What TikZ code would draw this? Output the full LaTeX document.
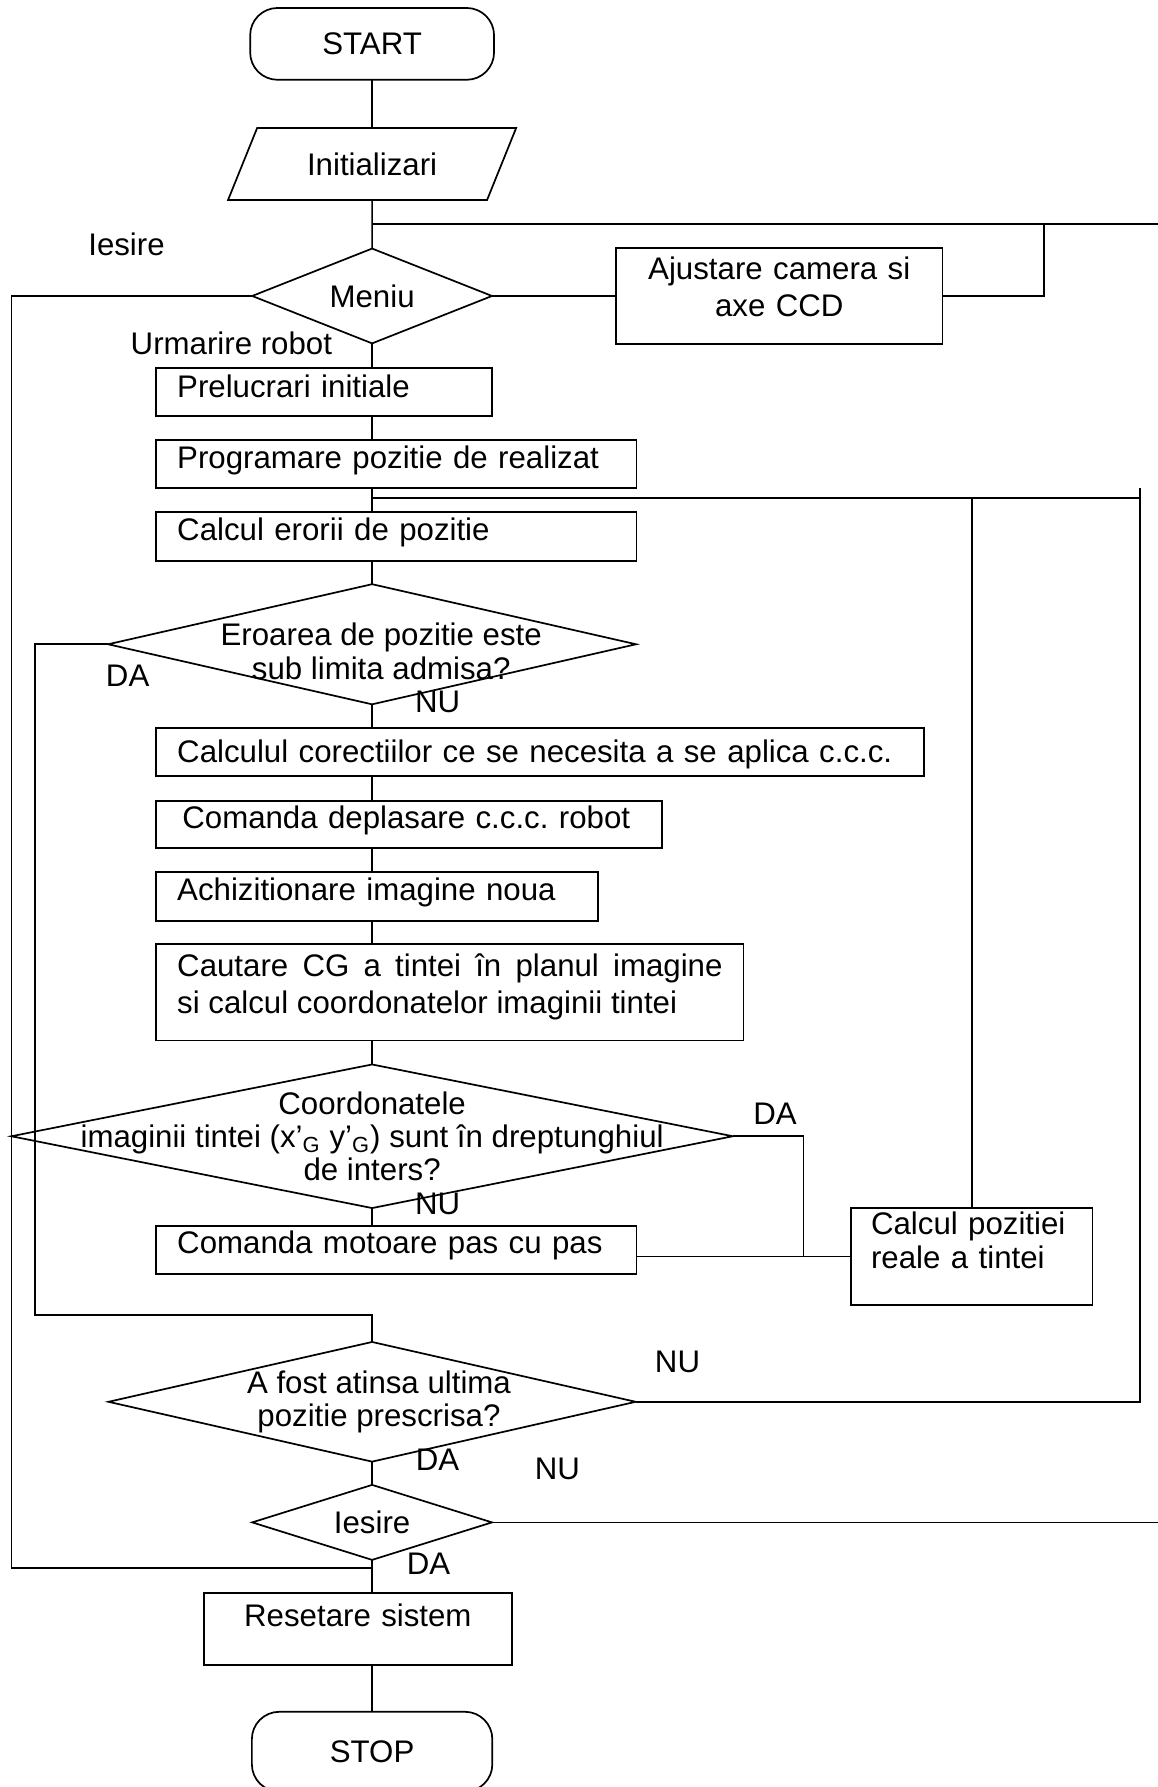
\documentclass[tikz,border=0pt]{standalone}
\usepackage{fontspec}
\setmainfont{Liberation Sans}
\usetikzlibrary{shapes.geometric}
\newcommand{\cl}[2][0pt]{\makebox[0pt]{\hspace*{#1}#2}}

\begin{document}
\begin{tikzpicture}[x=0.5pt, y=-0.5pt, line width=0.75pt, font=\fontsize{13.7}{16}\selectfont,
	box/.style={draw, rectangle, anchor=north west, inner xsep=9.25pt, inner ysep=0pt, outer sep=0pt, align=left},
	decision/.style={draw, diamond, inner sep=0pt, outer sep=0pt, align=center, font=\fontsize{13.7}{14.5}\selectfont},
	terminal/.style={draw, rectangle, rounded corners=12pt, inner sep=0pt, outer sep=0pt},
	io/.style={draw, trapezium, trapezium left angle=68, trapezium right angle=112, trapezium stretches body, inner xsep=0pt, inner ysep=10.8pt, text height=10pt, text depth=0pt, outer sep=0pt},
	lbl/.style={inner sep=0pt}]
			%%%%% START %%%%%
			
			\useasboundingbox (0,0) rectangle (1016,1568);
			\clip (0,0) rectangle (1016,1568);
			
			\coordinate (axis) at (326.5,0);
			
			\node[terminal, minimum width=107pt, minimum height=31.5pt] (start) at (326.5,38.5) {START};
			\node[io, minimum width=126.4pt] (init) at (326.5,143.9) {Initializari};
			
			\node[decision, minimum width=105.2pt, minimum height=41.6pt] (meniu) at (326.5,259.7) {\cl{Meniu}};
			\node[box, align=center, text width=124.75pt, text height=14pt, text depth=28.1pt] (ajust) at (540.5,217.6) {Ajustare camera si\\axe CCD};
			
			\node[box, text width=129pt, text height=13pt, text depth=8pt] (prel) at (137,323) {Prelucrari initiale};
			\node[box, text width=192.3pt, text height=12.5pt, text depth=8.5pt] (prog) at (137,386) {Programare pozitie de realizat};
			\node[box, text width=192.3pt, text height=12.5pt, text depth=9pt] (erori) at (137,449) {Calcul erorii de pozitie};
			
			\node[decision, minimum width=231.6pt, minimum height=52.7pt, text height=30.5pt, text depth=0pt] (eroare) at (326.5,565.3) {\cl[8pt]{Eroarea de pozitie este}\\\cl[8pt]{sub limita admisa?}};
			
			\node[box, text width=318.5pt, text height=15pt, text depth=6pt] (corect) at (137,639) {Calculul corectiilor ce se necesita a se aplica c.c.c.};
			\node[box, inner xsep=11.5pt, text width=199pt, text height=12pt, text depth=8.5pt] (depl) at (137,703) {Comanda deplasare c.c.c.\ robot};
			\node[box, text width=175.5pt, text height=12.5pt, text depth=9pt] (achiz) at (137,765) {Achizitionare imagine noua};
			\node[box, align=justify, text width=239.25pt, text height=14.5pt, text depth=28pt] (caut) at (137,828) {Cautare CG a tintei în planul imagine\linebreak si calcul coordonatelor imaginii tintei};
			
			\node[decision, minimum width=316.5pt, minimum height=63pt] (coord) at (326.5,997) {\cl{Coordonatele}\\\cl{imaginii tintei (x’\textsubscript{G} y’\textsubscript{G}) sunt în dreptunghiul}\\\cl{de inters?}};
			
			\node[box, text width=192.3pt, text height=12pt, text depth=9.1pt] (motor) at (137,1075.6) {Comanda motoare pas cu pas};
			\node[box, inner xsep=8.65pt, text width=88.5pt, text height=11.5pt, text depth=31pt] (calcpoz) at (747,1060) {Calcul pozitiei\\[-1pt]reale a tintei};
			
			\node[decision, minimum width=231.3pt, minimum height=52.5pt] (afost) at (326.5,1230) {\cl[6pt]{A fost atinsa ultima}\\\cl[6pt]{pozitie prescrisa?}};
			\node[decision, minimum width=105.2pt, minimum height=32.9pt] (iesire) at (326.5,1335.8) {\cl{Iesire}};
			
			\node[box, align=center, text width=116.5pt, text height=14.5pt, text depth=17pt] (reset) at (179,1398) {Resetare sistem};
			\node[terminal, anchor=north, minimum width=105.5pt, minimum height=35pt] (stop) at (326.5,1502) {STOP};
			
			% junctions and loose ends
			\coordinate (j1) at (326.5,196.5);
			\coordinate (rtop) at (1020,196.5);
			\coordinate (jA) at (916,196.5);
			\coordinate (lout) at (10,1375.7);
			\coordinate (jR) at (326.5,1375.7);
			\coordinate (j2) at (326.5,437);
			\coordinate (rR) at (1000,428);
			\coordinate (lin) at (30.4,1153.7);
			\coordinate (jD) at (705,1103);
			\coordinate (rbot) at (1020,1335.8);
			
			\draw (start.south) -- (start.south |- init.north);
			\draw (init.south) -- (meniu.north);
			\draw (j1) -- (rtop);
			\draw (meniu.east) -- (ajust.west);
			\draw (ajust.east) -| (jA);
			\draw (meniu.west) -| (lout) -- (jR);
			
			\draw (meniu.south) -- (axis |- prel.north);
			\draw (axis |- prel.south) -- (axis |- prog.north);
			\draw (axis |- prog.south) -- (axis |- erori.north);
			\draw (j2) -- (rR |- j2);
			\draw (calcpoz.north) -- (calcpoz.north |- j2);
			\draw (afost.east) -| (rR);
			
			\draw (axis |- erori.south) -- (eroare.north);
			\draw (eroare.west) -| (lin) -| (afost.north);
			\draw (eroare.south) -- (axis |- corect.north);
			\draw (axis |- corect.south) -- (axis |- depl.north);
			\draw (axis |- depl.south) -- (axis |- achiz.north);
			\draw (axis |- achiz.south) -- (axis |- caut.north);
			\draw (axis |- caut.south) -- (coord.north);
			
			\draw (coord.east) -| (jD);
			\draw (coord.south) -- (axis |- motor.north);
			\draw (motor.east |- calcpoz.west) -- (calcpoz.west);
			
			\draw (afost.south) -- (iesire.north);
			\draw (iesire.east) -- (rbot);
			\draw (iesire.south) -- (axis |- reset.north);
			\draw (axis |- reset.south) -- (stop.north);
			
			\node[lbl] (lbliesire) at (111,214) {Iesire};
			\node[lbl] (lblurm) at (203,301) {Urmarire robot};
			\node[lbl] (lblda1) at (112,593) {DA};
			\node[lbl] (lblnu1) at (384,616) {NU};
			\node[lbl] (lblda2) at (680,977) {DA};
			\node[lbl] (lblnu2) at (384,1056) {NU};
			\node[lbl] (lblnu3) at (594.5,1195) {NU};
			\node[lbl] (lblda3) at (384,1281) {DA};
			\node[lbl] (lblnu4) at (489,1289) {NU};
			\node[lbl] (lblda4) at (376,1372) {DA};
			
			%%%%% END %%%%%
\end{tikzpicture}
\end{document}
